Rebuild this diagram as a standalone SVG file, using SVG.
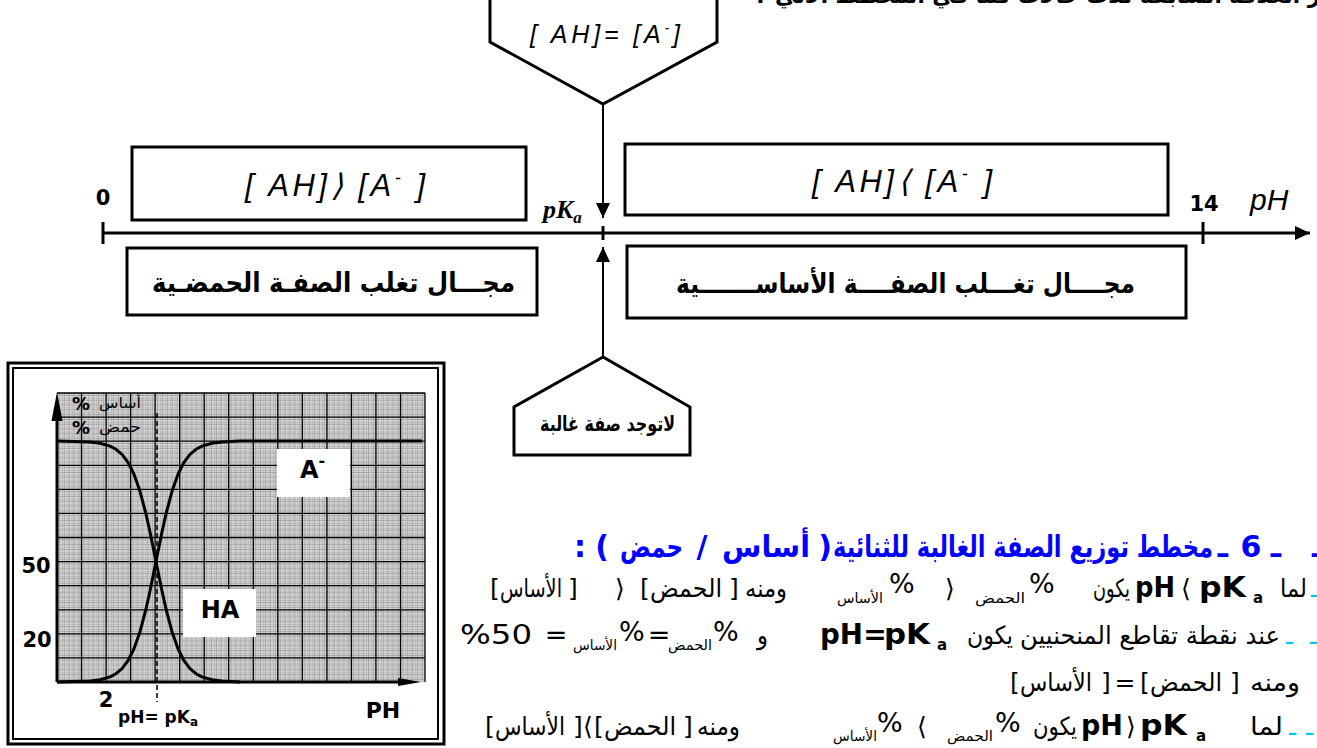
<svg xmlns="http://www.w3.org/2000/svg" width="1317" height="748" viewBox="0 0 1317 748">
<style>
.ln{fill:none;stroke:#000;stroke-width:3}
.box{fill:#fff;stroke:#000;stroke-width:3}
.ar{font-family:"DejaVu Sans",sans-serif;fill:#000}
.arb{font-family:"DejaVu Sans",sans-serif;font-weight:bold;fill:#000}
.it{font-family:"Liberation Sans",sans-serif;font-style:italic;fill:#000}
.b{font-family:"DejaVu Sans",sans-serif;font-weight:bold;fill:#000}
.t25{font-size:25px}
.sub{font-size:14px}
.pct{font-size:27px}
.big{font-size:28px}
.hd{font-family:"DejaVu Sans",sans-serif;font-weight:bold;font-size:30px;fill:#0000ff}
.cy{fill:#00c8f0;font-family:"DejaVu Sans",sans-serif;font-size:24px}
.ov{direction:ltr;unicode-bidi:bidi-override}
.curve{fill:none;stroke:#000;stroke-width:3;stroke-linejoin:round}
</style>
<defs>
<marker id="ah" markerUnits="userSpaceOnUse" markerWidth="16" markerHeight="14" refX="15" refY="7" orient="auto">
<path d="M0,0 L15,7 L0,14 Z" fill="#000"/>
</marker>
<pattern id="minor" patternUnits="userSpaceOnUse" x="57" y="393" width="4.906" height="4.816">
<rect width="4.906" height="4.816" fill="#d8d8d8"/>
<path d="M0,0 V4.816 M2.453,0 V4.816 M0,0 H4.906 M0,2.408 H4.906" stroke="#8a8a8a" stroke-width="0.55"/>
</pattern>
</defs>

<!-- cut-off top line -->
<text class="arb" x="775" y="3" font-size="22" textLength="545" lengthAdjust="spacingAndGlyphs">ز العلاقة السابقة ثلاث حالات كما في المخطط الآتي</text>
<text class="arb ov" x="756" y="3" font-size="22">:</text>

<g id="connectors">
<line class="ln" x1="103" y1="233" x2="1310" y2="233" marker-end="url(#ah)"/>
<line class="ln" x1="103" y1="222" x2="103" y2="244"/>
<line class="ln" x1="603" y1="226" x2="603" y2="240"/>
<line class="ln" x1="1203" y1="222" x2="1203" y2="244"/>
<line x1="603" y1="104" x2="603" y2="218" stroke="#000" stroke-width="2" marker-end="url(#ah)"/>
<line x1="603" y1="357" x2="603" y2="247" stroke="#000" stroke-width="2" marker-end="url(#ah)"/>
</g>

<g id="axis-labels">
<text class="b" x="103" y="205" font-size="21" text-anchor="middle">0</text>
<text class="b" x="1204" y="211" font-size="21" text-anchor="middle">14</text>
<text class="it" x="1250" y="210" font-size="30">pH</text>
<text x="543" y="218" font-family="Liberation Serif,serif" font-weight="bold" font-style="italic" font-size="26">pK<tspan font-size="17" dy="5">a</tspan></text>
</g>

<g id="node-equal">
<path class="box" d="M490,-3 V42 L603,104 L717,42 V-3"/>
<text class="it ov" x="530" y="43" font-size="25" textLength="150" lengthAdjust="spacing">[ AH]=  [A<tspan font-size="14" dy="-10">-</tspan><tspan dy="10">]</tspan></text>
</g>

<g id="node-acid-conc">
<rect class="box" x="132" y="147" width="394" height="73"/>
<text class="it ov" x="245" y="196" font-size="31" textLength="180" lengthAdjust="spacing">[ AH]⟩  [A<tspan font-size="18" dy="-12">-</tspan><tspan dy="12"> ]</tspan></text>
</g>

<g id="node-base-conc">
<rect class="box" x="625" y="144" width="543" height="71"/>
<text class="it ov" x="812" y="192" font-size="31" textLength="180" lengthAdjust="spacing">[ AH]⟨  [A<tspan font-size="18" dy="-12">-</tspan><tspan dy="12"> ]</tspan></text>
</g>

<g id="node-acid-domain">
<rect class="box" x="127" y="248" width="410" height="67"/>
<text class="arb" x="152" y="292" font-size="27" textLength="363" lengthAdjust="spacingAndGlyphs">مجـــال تغلب الصفـة الحمضـية</text>
</g>

<g id="node-base-domain">
<rect class="box" x="627" y="246" width="559" height="72"/>
<text class="arb" x="676" y="293" font-size="27" textLength="459" lengthAdjust="spacingAndGlyphs">مجــــال تغـــلب الصفــــة الأساســـــــية</text>
</g>

<g id="node-none">
<path class="box" d="M603,357 L514,407 V455 H690 V407 Z"/>
<text class="arb" x="540" y="431" font-size="21" textLength="135" lengthAdjust="spacingAndGlyphs">لاتوجد صفة غالبة</text>
</g>

<!-- distribution graph -->
<g id="graph">
<rect x="8" y="363" width="436" height="381" fill="#fff" stroke="#000" stroke-width="3"/>
<rect x="13" y="368" width="425" height="371" fill="none" stroke="#000" stroke-width="2"/>
<rect x="57" y="393" width="368" height="289" fill="url(#minor)"/>
<path stroke="#000" stroke-width="1.3" fill="none" d="M81.5,393V682M106.1,393V682M130.6,393V682M155.1,393V682M179.7,393V682M204.2,393V682M228.7,393V682M253.3,393V682M277.8,393V682M302.3,393V682M326.9,393V682M351.4,393V682M375.9,393V682M400.5,393V682M425,393V682M57,393H425M57,417.1H425M57,441.2H425M57,465.3H425M57,489.3H425M57,513.4H425M57,537.5H425M57,561.6H425M57,585.7H425M57,609.8H425M57,633.8H425M57,657.9H425"/>
<rect x="277" y="449" width="73" height="48" fill="#fff"/>
<rect x="183" y="589" width="73" height="48" fill="#fff"/>
<line x1="157" y1="413" x2="157" y2="702" stroke="#000" stroke-width="1.5" stroke-dasharray="5,3"/>
<polyline class="curve" points="57,682 90,681 100,679.8 110,676.9 116,673.7 122,668.6 128,660.7 134,648.8 140,631.7 146,609 150,591 156,561.5 162,532 166,514 172,491.3 178,474.2 184,462.3 190,454.4 196,449.3 202,446.1 212,443.2 222,442 240,441 422,441"/>
<polyline class="curve" points="57,441 90,442 100,443.2 110,446.1 116,449.3 122,454.4 128,462.3 134,474.2 140,491.3 146,514 150,532 156,561.5 162,591 166,609 172,631.7 178,648.8 184,660.7 190,668.6 196,673.7 202,676.9 212,679.8 222,681 240,682"/>
<line x1="57" y1="682" x2="405" y2="682" stroke="#000" stroke-width="3"/>
<path d="M398,678 L421,682 L398,686 Z" fill="#000"/>
<line x1="57" y1="682" x2="57" y2="410" stroke="#000" stroke-width="3"/>
<path d="M51.5,421 L57,392 L62.5,421 Z" fill="#000"/>
<text class="b" x="72" y="410" font-size="18">%</text>
<text class="ar" x="99" y="408" font-size="15" textLength="42" lengthAdjust="spacingAndGlyphs">أساس</text>
<text class="b" x="72" y="434" font-size="18">%</text>
<text class="ar" x="99" y="432" font-size="15" textLength="42" lengthAdjust="spacingAndGlyphs">حمض</text>
<text class="b" x="300" y="478" font-size="24">A<tspan font-size="16" dy="-12">-</tspan></text>
<text class="b" x="220" y="618" font-size="24" text-anchor="middle">HA</text>
<text class="b" x="36" y="573" font-size="21" text-anchor="middle">50</text>
<text class="b" x="37" y="647" font-size="21" text-anchor="middle">20</text>
<text class="b" x="106" y="707" font-size="21" text-anchor="middle">2</text>
<text class="b" x="118" y="723" font-size="17">pH= pK<tspan font-size="12" dy="3">a</tspan></text>
<text class="b" x="383" y="718" font-size="22" text-anchor="middle">PH</text>
</g>

<!-- explanatory text -->
<g id="notes">
<text class="hd ov" x="1276" y="557" text-anchor="middle">ـ</text>
<text class="hd" x="1251" y="557" text-anchor="middle">6</text>
<text class="hd ov" x="1223" y="557" text-anchor="middle">ـ</text>
<text class="hd ov" x="1312" y="557">ـ</text>
<text class="hd" x="833" y="557" textLength="380" lengthAdjust="spacingAndGlyphs">مخطط توزيع الصفة الغالبة للثنائية</text>
<text class="hd ov" x="825" y="557" text-anchor="middle">)</text>
<text class="hd" x="722" y="557" textLength="88" lengthAdjust="spacingAndGlyphs">أساس</text>
<text class="hd ov" x="702" y="557" text-anchor="middle">/</text>
<text class="hd" x="620" y="557" textLength="63" lengthAdjust="spacingAndGlyphs">حمض</text>
<text class="hd ov" x="602" y="557" text-anchor="middle">(</text>
<text class="hd ov" x="580" y="557" text-anchor="middle">:</text>

<!-- line 2 -->
<text class="ar t25 ov" x="490" y="597">[</text>
<text class="ar t25" x="500" y="597" textLength="62" lengthAdjust="spacingAndGlyphs">الأساس</text>
<text class="ar t25 ov" x="568" y="597">]</text>
<text class="ar t25 ov" x="620" y="597" text-anchor="middle">⟩</text>
<text class="ar t25 ov" x="640" y="597">[</text>
<text class="ar t25" x="650" y="597" textLength="72" lengthAdjust="spacingAndGlyphs">الحمض</text>
<text class="ar t25 ov" x="729" y="597">]</text>
<text class="ar t25" x="745" y="597" textLength="42" lengthAdjust="spacingAndGlyphs">ومنه</text>
<text class="ar sub" x="837" y="603" textLength="46" lengthAdjust="spacingAndGlyphs">الأساس</text>
<text class="ar pct ov" x="889" y="593">%</text>
<text class="ar t25 ov" x="950" y="597" text-anchor="middle">⟩</text>
<text class="ar sub" x="975" y="603" textLength="50" lengthAdjust="spacingAndGlyphs">الحمض</text>
<text class="ar pct ov" x="1029" y="593">%</text>
<text class="ar t25" x="1093" y="597" textLength="37" lengthAdjust="spacingAndGlyphs">يكون</text>
<text class="b big" x="1135" y="597" textLength="40" lengthAdjust="spacingAndGlyphs">pH</text>
<text class="ar t25 ov" x="1186" y="597" text-anchor="middle">⟨</text>
<text class="b big" x="1199" y="597" textLength="47" lengthAdjust="spacingAndGlyphs">pK</text>
<text class="b" x="1253" y="603" font-size="15">a</text>
<text class="ar t25" x="1280" y="597" textLength="27" lengthAdjust="spacingAndGlyphs">لما</text>
<text class="cy ov" x="1311" y="597">ـ</text>

<!-- line 3 -->
<text class="ar pct ov" x="460" y="644" textLength="72" lengthAdjust="spacingAndGlyphs">%50</text>
<text class="ar pct ov" x="556" y="644" text-anchor="middle">=</text>
<text class="ar sub" x="573" y="650" textLength="44" lengthAdjust="spacingAndGlyphs">الأساس</text>
<text class="ar pct ov" x="619" y="641">%</text>
<text class="ar pct ov" x="659" y="644" text-anchor="middle">=</text>
<text class="ar sub" x="668" y="650" textLength="44" lengthAdjust="spacingAndGlyphs">الحمض</text>
<text class="ar pct ov" x="713" y="641">%</text>
<text class="ar t25" x="757" y="644" textLength="11" lengthAdjust="spacingAndGlyphs">و</text>
<text class="b big" x="820" y="644" textLength="43" lengthAdjust="spacingAndGlyphs">pH</text>
<text class="b big ov" x="875" y="644" text-anchor="middle">=</text>
<text class="b big" x="884" y="644" textLength="46" lengthAdjust="spacingAndGlyphs">pK</text>
<text class="b" x="937" y="650" font-size="15">a</text>
<text class="ar t25" x="967" y="644" textLength="46" lengthAdjust="spacingAndGlyphs">يكون</text>
<text class="ar t25" x="1020" y="644" textLength="260" lengthAdjust="spacingAndGlyphs">عند نقطة تقاطع المنحنيين</text>
<text class="cy ov" x="1286" y="644">ـ</text>
<text class="cy ov" x="1310" y="644">ـ</text>

<!-- line 4 -->
<text class="ar t25 ov" x="1010" y="691">[</text>
<text class="ar t25" x="1020" y="691" textLength="72" lengthAdjust="spacingAndGlyphs">الأساس</text>
<text class="ar t25 ov" x="1101" y="691">]</text>
<text class="ar t25 ov" x="1125" y="691" text-anchor="middle">=</text>
<text class="ar t25 ov" x="1140" y="691">[</text>
<text class="ar t25" x="1150" y="691" textLength="72" lengthAdjust="spacingAndGlyphs">الحمض</text>
<text class="ar t25 ov" x="1230" y="691">]</text>
<text class="ar t25" x="1250" y="691" textLength="50" lengthAdjust="spacingAndGlyphs">ومنه</text>

<!-- line 5 -->
<text class="ar t25 ov" x="485" y="735">[</text>
<text class="ar t25" x="495" y="735" textLength="70" lengthAdjust="spacingAndGlyphs">الأساس</text>
<text class="ar t25 ov" x="573" y="735">]</text>
<text class="ar t25 ov" x="588" y="735" text-anchor="middle">⟨</text>
<text class="ar t25 ov" x="594" y="735">[</text>
<text class="ar t25" x="604" y="735" textLength="72" lengthAdjust="spacingAndGlyphs">الحمض</text>
<text class="ar t25 ov" x="683" y="735">]</text>
<text class="ar t25" x="697" y="735" textLength="43" lengthAdjust="spacingAndGlyphs">ومنه</text>
<text class="ar sub" x="833" y="741" textLength="44" lengthAdjust="spacingAndGlyphs">الأساس</text>
<text class="ar pct ov" x="877" y="732">%</text>
<text class="ar t25 ov" x="922" y="735" text-anchor="middle">⟨</text>
<text class="ar sub" x="947" y="741" textLength="46" lengthAdjust="spacingAndGlyphs">الحمض</text>
<text class="ar pct ov" x="995" y="732">%</text>
<text class="ar t25" x="1033" y="735" textLength="44" lengthAdjust="spacingAndGlyphs">يكون</text>
<text class="b big" x="1081" y="735" textLength="42" lengthAdjust="spacingAndGlyphs">pH</text>
<text class="ar t25 ov" x="1131" y="735" text-anchor="middle">⟩</text>
<text class="b big" x="1140" y="735" textLength="47" lengthAdjust="spacingAndGlyphs">pK</text>
<text class="b" x="1196" y="741" font-size="15">a</text>
<text class="ar t25" x="1250" y="735" textLength="33" lengthAdjust="spacingAndGlyphs">لما</text>
<text class="cy ov" x="1289" y="735">ـ</text>
<text class="cy ov" x="1306" y="735">ـ</text>
</g>
</svg>
